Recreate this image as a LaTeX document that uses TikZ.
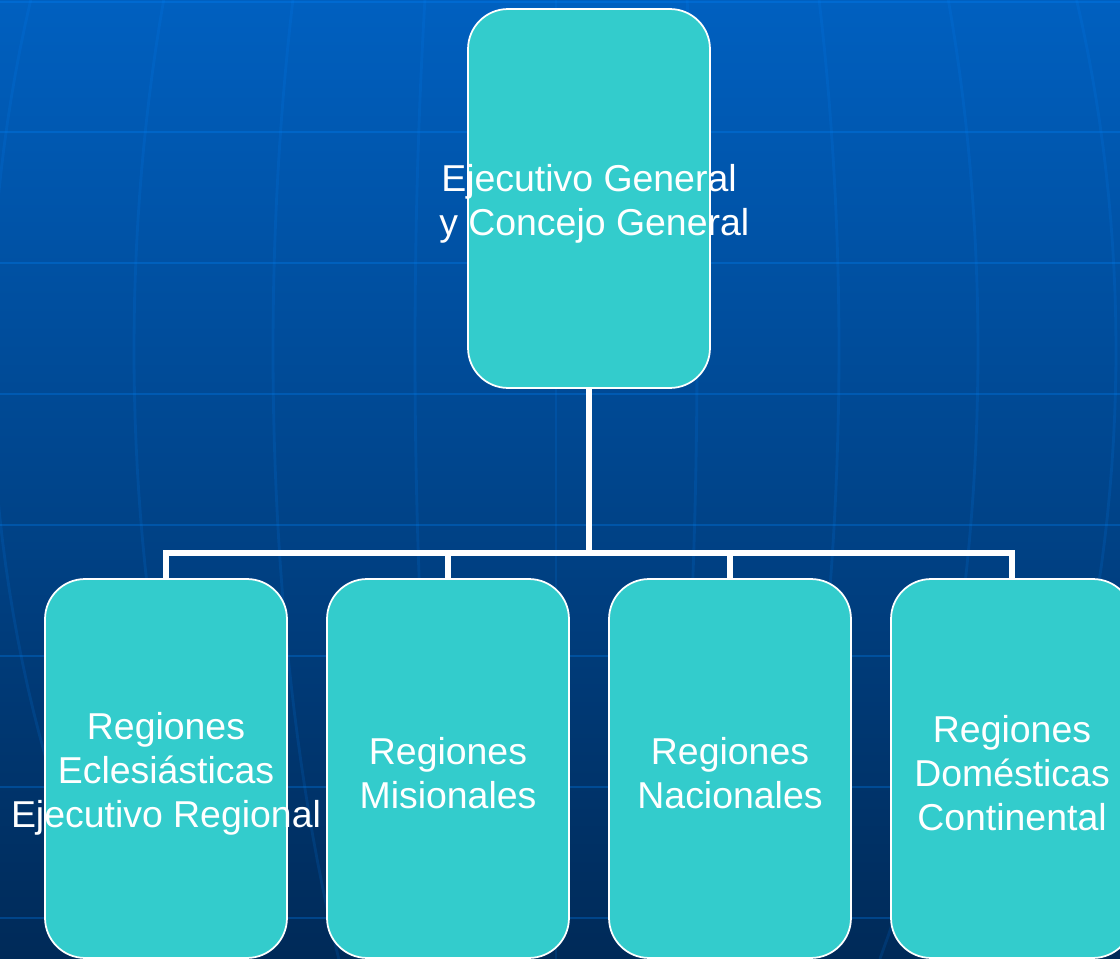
\documentclass[tikz,border=0pt]{standalone}
\usepackage{fontspec}
\setmainfont{Liberation Sans}
\definecolor{boxteal}{HTML}{33CCCC}
\definecolor{bgtop}{HTML}{0060C0}
\definecolor{bgbottom}{HTML}{002A58}
\definecolor{gridblue}{RGB}{0,135,255}
\tikzset{Box/.style={rectangle, rounded corners=0.8cm, draw=white, line width=1pt, fill=boxteal, minimum width=4.84cm, minimum height=7.58cm, inner sep=0pt}}

\begin{document}
\begin{tikzpicture}[x=0.02cm, y=-0.02cm,
    Label/.style={text=white, align=center, yshift=-0.1cm, font=\fontsize{21.3}{25}\selectfont},
    Link/.style={draw=white, line width=2.9pt},
    Grid/.style={draw=gridblue, opacity=0.28, line width=1.7pt},
    Meridian/.style={draw=gridblue, opacity=0.14, line width=1.6pt}]
        \useasboundingbox (0,0) rectangle (1120,959);
        \clip (0,0) rectangle (1120,959);
        \shade[top color=bgtop, bottom color=bgbottom] (0,0) rectangle (1120,959);
        \foreach \h in {2,132,263,394,525,656,787,918}
            \draw[Grid] (0,\h) -- (1120,\h);
        \foreach \d in {-565,-422,-283,-141,0,141,283,422,560}
            \draw[Meridian] plot[domain=0:959, samples=40] ({556+\d*sqrt(1-((\x-350)/950)^2)}, \x);

        \node[Box, label={[Label]center:Ejecutivo General\\\hspace*{0.21cm}y Concejo General}] (EG) at (589,198.5) {};
        \node[Box, label={[Label]center:Regiones\\Eclesiásticas\\Ejecutivo Regional}] (RE) at (166,768.5) {};
        \node[Box, label={[Label]center:Regiones\\Misionales}] (RM) at (448,768.5) {};
        \node[Box, label={[Label]center:Regiones\\Nacionales}] (RN) at (730,768.5) {};
        \node[Box, label={[Label]center:Regiones\\Domésticas\\Continental}] (RD) at (1012,768.5) {};

        \coordinate (Bus) at (589,553);
        \draw[Link] (EG.south) -- (Bus);
        \foreach \r in {RE,RM,RN,RD}
            \draw[Link] (Bus) -| (\r.north);
    \end{tikzpicture}
\end{document}
